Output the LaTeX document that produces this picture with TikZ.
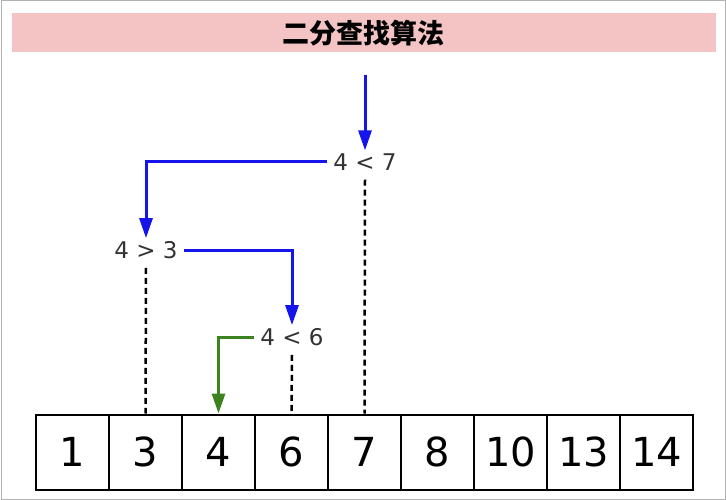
\documentclass[tikz,border=0pt]{standalone}
\usepackage{fontspec}
\setmainfont{DejaVu Sans}
\newfontfamily\cjk{Noto Sans CJK SC}
\usetikzlibrary{arrows.meta}
\definecolor{titlepink}{RGB}{244,196,196}
\definecolor{arrblue}{RGB}{20,20,235}
\definecolor{arrgreen}{RGB}{60,130,30}
\begin{document}
\begin{tikzpicture}[x=1pt,y=-1pt,
  cell/.style={draw=black,line width=2pt,minimum width=73pt,minimum height=75pt,inner sep=0pt,font=\fontsize{40}{40}\selectfont},
  cmp/.style={inner sep=6pt,font=\fontsize{23}{23}\selectfont,text=black!80},
  blu/.style={draw=arrblue,line width=3pt,-{Triangle[length=20pt,width=13pt]}},
  grn/.style={draw=arrgreen,line width=3pt,-{Triangle[length=20pt,width=13pt]}},
  dsh/.style={draw=black,line width=2.5pt,dash pattern=on 6pt off 4pt}]
\useasboundingbox (0,0) rectangle (726,500);
\draw[gray!60,line width=1pt] (1,1) rectangle (725,499);
\fill[titlepink] (12,13) rectangle (716,52);
\node[font=\cjk\bfseries\fontsize{27}{27}\selectfont] (title) at (363,33) {二分查找算法};
\foreach \v [count=\i] in {1,3,4,6,7,8,10,13,14}
  \node[cell] (c\i) at ({36+36.5+73*(\i-1)},452) {\v};
\node[cmp] (n7) at (365,162) {4 < 7};
\node[cmp] (n3) at (146,250) {4 > 3};
\node[cmp] (n6) at (292,337) {4 < 6};
\coordinate (top) at (365,75);
\draw[blu] (top) -- ([yshift=-3pt]n7.north);
\draw[blu] (n7.west) -| ([yshift=-3pt]n3.north);
\draw[blu] (n3.east) -| ([yshift=-3pt]n6.north);
\draw[grn] (n6.west) -| (c3.north);
\draw[dsh] ([yshift=-3pt]n7.south) -- (c5.north);
\draw[dsh] ([yshift=-3pt]n3.south) -- (c2.north);
\draw[dsh] ([yshift=-3pt]n6.south) -- (c4.north);
\end{tikzpicture}
\end{document}
